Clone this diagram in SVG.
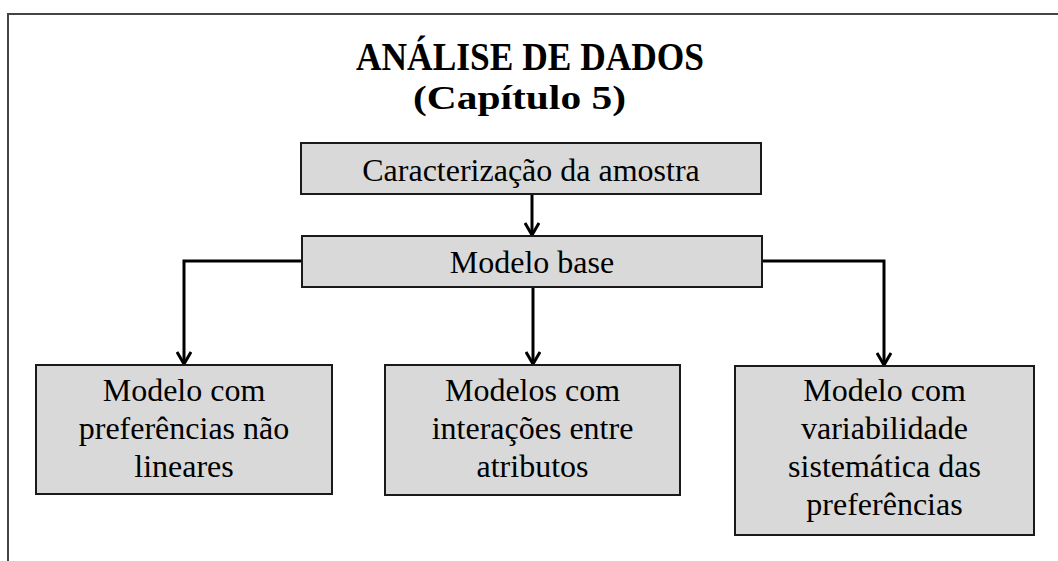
<svg xmlns="http://www.w3.org/2000/svg" width="1058" height="561" viewBox="0 0 1058 561">
<style>
.box{fill:#d9d9d9;stroke:#1a1a1a;stroke-width:2}
.t{font-family:"Liberation Serif","Times New Roman",serif;font-size:32px;fill:#000;text-anchor:middle}
.title{font-family:"Liberation Serif","Times New Roman",serif;font-weight:bold;fill:#000}
.conn{fill:none;stroke:#000;stroke-width:3}
</style>
<defs>
<marker id="arr" viewBox="0 0 16 16" refX="14" refY="8" markerWidth="16" markerHeight="16" markerUnits="userSpaceOnUse" orient="auto">
<path d="M2,1 L14,8 L2,15" fill="none" stroke="#000" stroke-width="3"/>
</marker>
</defs>
<rect width="1058" height="561" fill="#fff"/>
<g id="frame">
<path d="M8,561 L8,14 L1058,14" fill="none" stroke="#444" stroke-width="2"/>
</g>
<g id="title">
<text class="title" x="356" y="70" font-size="40" textLength="348" lengthAdjust="spacingAndGlyphs">ANÁLISE DE DADOS</text>
<text class="title" x="413" y="109" font-size="34" textLength="213" lengthAdjust="spacingAndGlyphs">(Capítulo  5)</text>
</g>
<g id="connectors">
<path class="conn" d="M532,194 L532,235" marker-end="url(#arr)"/>
<path class="conn" d="M302,261 L184,261 L184,364" marker-end="url(#arr)"/>
<path class="conn" d="M533,287 L533,364" marker-end="url(#arr)"/>
<path class="conn" d="M762,261 L884,261 L884,365" marker-end="url(#arr)"/>
</g>
<g id="n-caracterizacao">
<rect class="box" x="301" y="143" width="460" height="51"/>
<text class="t" x="531" y="181">Caracterização da amostra</text>
</g>
<g id="n-base">
<rect class="box" x="302" y="236" width="460" height="51"/>
<text class="t" x="532" y="273">Modelo base</text>
</g>
<g id="n-naolineares">
<rect class="box" x="36" y="365" width="296" height="129"/>
<text class="t" x="184" y="401">Modelo com</text>
<text class="t" x="184" y="439">preferências não</text>
<text class="t" x="184" y="477">lineares</text>
</g>
<g id="n-interacoes">
<rect class="box" x="385" y="365" width="295" height="130"/>
<text class="t" x="532.5" y="401">Modelos com</text>
<text class="t" x="532.5" y="439">interações entre</text>
<text class="t" x="532.5" y="477">atributos</text>
</g>
<g id="n-variabilidade">
<rect class="box" x="735" y="366" width="299" height="169"/>
<text class="t" x="884.5" y="401">Modelo com</text>
<text class="t" x="884.5" y="439">variabilidade</text>
<text class="t" x="884.5" y="477">sistemática das</text>
<text class="t" x="884.5" y="515">preferências</text>
</g>
</svg>
